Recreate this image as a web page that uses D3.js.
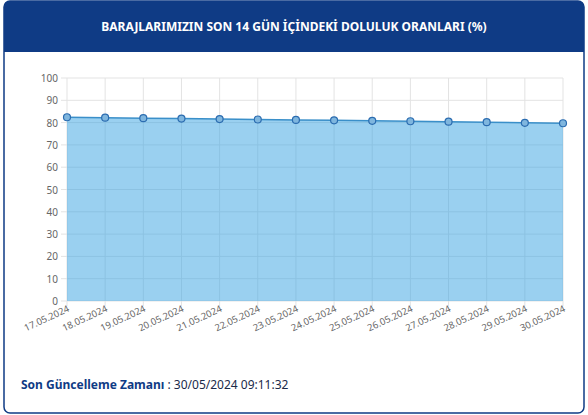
<!DOCTYPE html>
<html><head><meta charset="utf-8">
<script src="https://cdn.jsdelivr.net/npm/d3@7"></script>
<style>
body{margin:0;background:#fff;font-family:"Noto Sans",sans-serif}
</style></head>
<body><svg id="c" width="588" height="415"></svg>
<script>
const dates = ["17.05.2024","18.05.2024","19.05.2024","20.05.2024","21.05.2024","22.05.2024","23.05.2024","24.05.2024","25.05.2024","26.05.2024","27.05.2024","28.05.2024","29.05.2024","30.05.2024"];
const values = [82.4,82.2,82.0,81.8,81.6,81.4,81.2,81.0,80.8,80.6,80.4,80.2,79.9,79.7];
const yTicks = [0,10,20,30,40,50,60,70,80,90,100];

const svg = d3.select('#c');
const navy = '#0f3b85';

// card
svg.append('rect').attr('x', 4).attr('y', 1).attr('width', 580).attr('height', 412)
  .attr('rx', 6).attr('fill', '#fff').attr('stroke', navy).attr('stroke-width', 1.5);
svg.append('path').attr('d', 'M4,52V7a6,6 0 0 1 6,-6H578a6,6 0 0 1 6,6V52Z').attr('fill', navy);
svg.append('text').attr('x', 294).attr('y', 31).attr('text-anchor', 'middle')
  .attr('fill', '#fff').attr('font-size', 12).attr('font-weight', 'bold')
  .text('BARAJLARIMIZIN SON 14 GÜN İÇİNDEKİ DOLULUK ORANLARI (%)');

const x = d3.scalePoint().domain(dates).range([67, 563]);
const y = d3.scaleLinear().domain([0, 100]).range([301, 78]);

const grid = svg.append('g').attr('stroke', '#e3e3e3').attr('stroke-width', 1);
grid.selectAll('.h').data(yTicks).join('line')
  .attr('x1', 61).attr('x2', 563).attr('y1', d => y(d)).attr('y2', d => y(d));
grid.selectAll('.v').data(dates).join('line')
  .attr('x1', d => x(d)).attr('x2', d => x(d)).attr('y1', 78).attr('y2', 306);

svg.append('path').datum(values)
  .attr('d', d3.area().x((d, i) => x(dates[i])).y0(y(0)).y1(d => y(d)))
  .attr('fill', 'rgba(54,162,225,0.5)');
svg.append('path').datum(values)
  .attr('d', d3.line().x((d, i) => x(dates[i])).y(d => y(d)))
  .attr('fill', 'none').attr('stroke', '#3a8fc9').attr('stroke-width', 1.5);
svg.selectAll('.pt').data(values).join('circle')
  .attr('cx', (d, i) => x(dates[i])).attr('cy', d => y(d)).attr('r', 3.5)
  .attr('fill', '#7fb6de').attr('stroke', '#2b6cb0').attr('stroke-width', 1.2);

svg.selectAll('.yl').data(yTicks).join('text')
  .attr('x', 58).attr('y', d => y(d) + 4).attr('text-anchor', 'end')
  .attr('font-size', 10).attr('fill', '#666').text(d => d);
svg.selectAll('.xl').data(dates).join('text')
  .attr('transform', d => `translate(${x(d) + 3},${311}) rotate(-25)`)
  .attr('text-anchor', 'end').attr('font-size', 9.5).attr('fill', '#666').text(d => d);

const foot = svg.append('text').attr('x', 21).attr('y', 389).attr('font-size', 12);
foot.append('tspan').attr('fill', navy).attr('font-weight', 'bold').text('Son Güncelleme Zamanı');
foot.append('tspan').attr('fill', '#1a2a4a').text(' : 30/05/2024 09:11:32');
</script></body></html>
